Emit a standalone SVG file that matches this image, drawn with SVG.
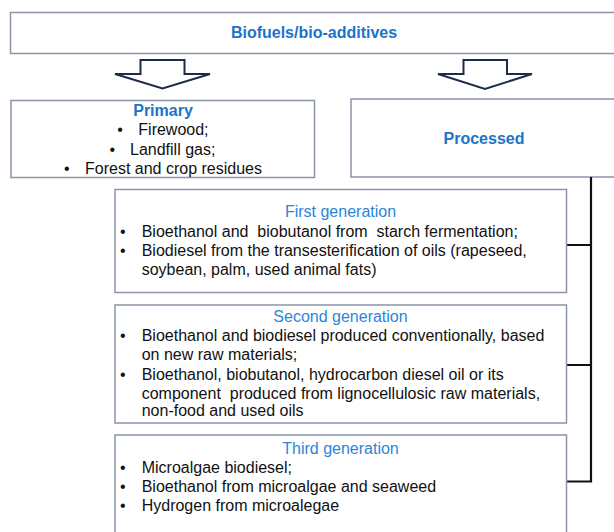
<svg xmlns="http://www.w3.org/2000/svg" width="614" height="532" viewBox="0 0 614 532">
<style>
  .box { fill: #ffffff; stroke: #8a95a8; stroke-width: 1.5; }
  .arrow { fill: #ffffff; stroke: #1f2b4a; stroke-width: 2; stroke-linejoin: miter; }
  .conn { fill: none; stroke: #111111; stroke-width: 2.2; }
  text { font-family: "Liberation Sans", Arial, sans-serif; font-size: 16px; fill: #111111; white-space: pre; }
  .title { font-weight: bold; fill: #1b74c7; text-anchor: middle; }
  .head { fill: #2a86d8; text-anchor: middle; }
  .mid { text-anchor: middle; }
</style>
<rect width="614" height="532" fill="#ffffff"/>

<g id="top">
  <rect class="box" x="10.5" y="12.5" width="620" height="41"/>
  <text class="title" x="314" y="38">Biofuels/bio-additives</text>
</g>

<g id="arrows">
  <polygon class="arrow" points="140.5,60 184.5,60 184.5,74 210,74 162.5,88.5 115,74 140.5,74"/>
  <polygon class="arrow" points="463.5,60 507,60 507,74 532,74 485,89 438,74 463.5,74"/>
</g>

<g id="primary">
  <rect class="box" x="11" y="100.5" width="303.5" height="77"/>
  <text class="title" x="163" y="116">Primary</text>
  <text class="mid" x="120" y="135">•</text>
  <text x="138.3" y="135">Firewood;</text>
  <text class="mid" x="112.3" y="154.5">•</text>
  <text x="130" y="154.5">Landfill gas;</text>
  <text class="mid" x="66.7" y="174">•</text>
  <text x="85" y="174">Forest and crop residues</text>
</g>

<g id="processed">
  <rect class="box" x="351" y="99" width="270" height="78"/>
  <text class="title" x="484" y="144">Processed</text>
</g>

<g id="connectors">
  <path class="conn" d="M591,177 V481.5 H566.5 M566.5,245 H591 M566.5,365 H591"/>
</g>

<g id="first-generation">
  <rect class="box" x="115" y="189.5" width="451.5" height="103"/>
  <text class="head" x="340.5" y="217">First generation</text>
  <text class="mid" x="122.7" y="237">•</text>
  <text x="141.7" y="237">Bioethanol and  biobutanol from  starch fermentation;</text>
  <text class="mid" x="122.7" y="256">•</text>
  <text x="141.7" y="256">Biodiesel from the transesterification of oils (rapeseed,</text>
  <text x="141.7" y="275">soybean, palm, used animal fats)</text>
</g>

<g id="second-generation">
  <rect class="box" x="115" y="305" width="451.5" height="118"/>
  <text class="head" x="340.5" y="321.5">Second generation</text>
  <text class="mid" x="122.7" y="341">•</text>
  <text x="141.7" y="341">Bioethanol and biodiesel produced conventionally, based</text>
  <text x="141.7" y="360">on new raw materials;</text>
  <text class="mid" x="122.7" y="379.5">•</text>
  <text x="141.7" y="379.5">Bioethanol, biobutanol, hydrocarbon diesel oil or its</text>
  <text x="141.7" y="398.5">component  produced from lignocellulosic raw materials,</text>
  <text x="141.7" y="416">non-food and used oils</text>
</g>

<g id="third-generation">
  <rect class="box" x="115" y="435" width="451.5" height="110"/>
  <text class="head" x="340.5" y="453.5">Third generation</text>
  <text class="mid" x="122.7" y="473">•</text>
  <text x="141.7" y="473">Microalgae biodiesel;</text>
  <text class="mid" x="122.7" y="492">•</text>
  <text x="141.7" y="492">Bioethanol from microalgae and seaweed</text>
  <text class="mid" x="122.7" y="511">•</text>
  <text x="141.7" y="511">Hydrogen from microalegae</text>
</g>
</svg>
